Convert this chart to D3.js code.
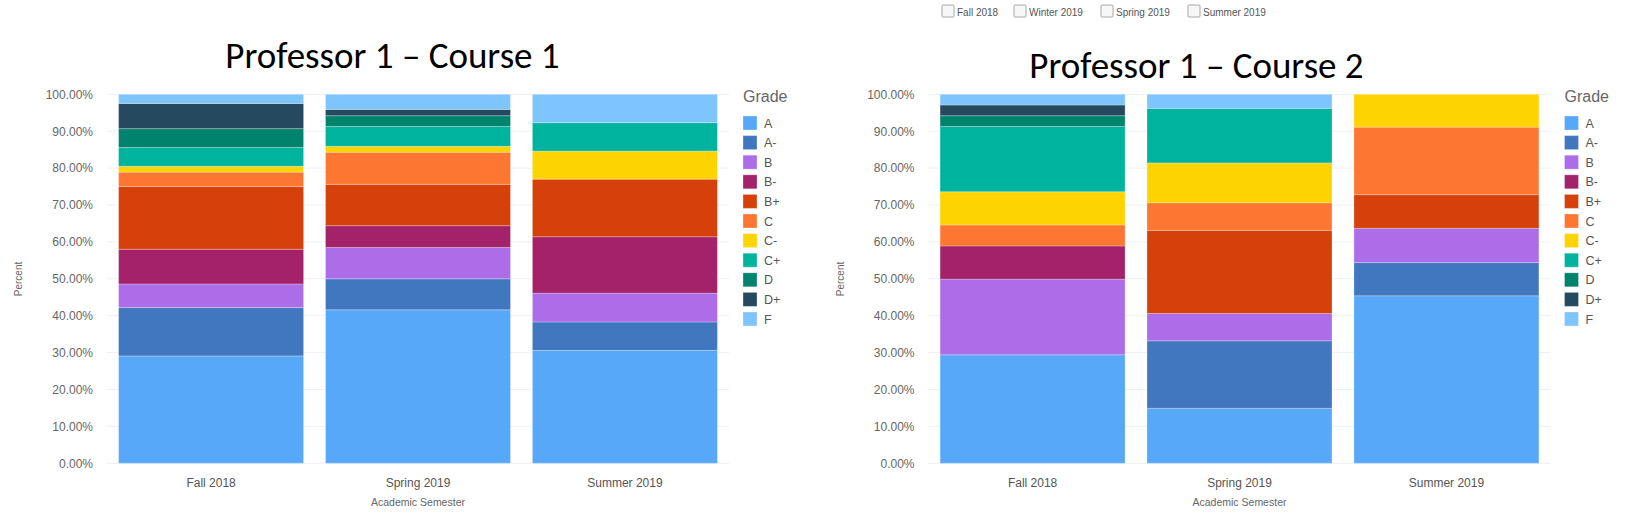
<!DOCTYPE html>
<html>
<head>
<meta charset="utf-8">
<script src="https://cdn.jsdelivr.net/npm/d3@7"></script>
<style>
  html, body { margin: 0; padding: 0; background: #fff; }
  svg { display: block; }
</style>
</head>
<body>
<svg id="chart" width="1650" height="530"></svg>
<script>
// ---- data ----
const grades = ["A", "A-", "B", "B-", "B+", "C", "C-", "C+", "D", "D+", "F"];
const semesters = ["Fall 2018", "Spring 2019", "Summer 2019"];
const filterLabels = ["Fall 2018", "Winter 2019", "Spring 2019", "Summer 2019"];
const yTicks = [0, 10, 20, 30, 40, 50, 60, 70, 80, 90, 100];
const gradeColors = ["#57a8f8", "#4177bf", "#ad6de8", "#a3226a", "#d6400a", "#fd7733", "#fdd400", "#00b39f", "#00836c", "#254a60", "#7fc5fd"];

// percentages per grade (A ... F) for each semester
const course1Fall2018 = [29.1, 13.1, 6.4, 9.4, 17.0, 3.9, 1.6, 5.1, 5.1, 6.8, 2.5];
const course1Spring2019 = [41.6, 8.4, 8.5, 5.9, 11.2, 8.7, 1.6, 5.4, 2.9, 1.7, 4.1];
const course1Summer2019 = [30.6, 7.7, 7.8, 15.3, 15.6, 0, 7.6, 7.7, 0, 0, 7.7];

const course2Fall2018 = [29.4, 0, 20.5, 9.0, 0, 5.7, 9.0, 17.7, 2.9, 2.9, 2.9];
const course2Spring2019 = [14.9, 18.3, 7.4, 0, 22.5, 7.5, 10.8, 14.8, 0, 0, 3.8];
const course2Summer2019 = [45.4, 9.0, 9.3, 0, 9.1, 18.3, 8.9, 0, 0, 0, 0];

const titles = ["Professor 1 \u2013 Course 1", "Professor 1 \u2013 Course 2"];

// ---- drawing ----
const svg = d3.select("#chart");
const color = d3.scaleOrdinal().domain(grades).range(gradeColors);

function buildRows(seriesList) {
  return semesters.map((s, i) => {
    const row = { semester: s };
    grades.forEach((g, j) => { row[g] = seriesList[i][j]; });
    return row;
  });
}

function drawChart(offsetX, title, titleX, titleY, seriesList) {
  const g = svg.append("g").attr("transform", `translate(${offsetX},0)`);
  const x = d3.scaleBand().domain(semesters).range([107, 729]).paddingInner(0.106).paddingOuter(0.056);
  const y = d3.scaleLinear().domain([0, 100]).range([463.3, 94.3]);

  // gridlines
  g.append("g").selectAll("line").data(yTicks).join("line")
    .attr("x1", 107).attr("x2", 729)
    .attr("y1", d => y(d)).attr("y2", d => y(d))
    .attr("stroke", "#edf1f4").attr("stroke-width", 1);

  // y axis labels
  const yAxis = d3.axisLeft(y).tickValues(yTicks).tickSize(0).tickPadding(0)
    .tickFormat(d => d.toFixed(2) + "%");
  g.append("g").attr("transform", "translate(93,0)").call(yAxis)
    .call(a => a.select(".domain").remove())
    .call(a => a.selectAll("text").attr("fill", "#666").attr("font-size", 12)
      .attr("font-family", "Liberation Sans, Arial, sans-serif"));

  // stacked bars
  const rows = buildRows(seriesList);
  const stacked = d3.stack().keys(grades)(rows);
  g.append("g").selectAll("g").data(stacked).join("g")
    .attr("fill", d => color(d.key))
    .selectAll("rect").data(d => d).join("rect")
      .attr("x", d => x(d.data.semester))
      .attr("width", x.bandwidth())
      .attr("y", d => y(d[1]))
      .attr("height", d => Math.max(0, y(d[0]) - y(d[1])))
      .attr("stroke", "#ffffff").attr("stroke-opacity", 0.25).attr("stroke-width", 1);

  // x axis labels
  const xAxis = d3.axisBottom(x).tickSize(0).tickPadding(0);
  g.append("g").attr("transform", "translate(0,478)").call(xAxis)
    .call(a => a.select(".domain").remove())
    .call(a => a.selectAll("text").attr("fill", "#555").attr("font-size", 12)
      .attr("font-family", "Liberation Sans, Arial, sans-serif"));

  // axis titles
  g.append("text").attr("x", (107 + 729) / 2).attr("y", 506)
    .attr("text-anchor", "middle").attr("fill", "#666").attr("font-size", 10.5)
    .attr("font-family", "Liberation Sans, Arial, sans-serif")
    .text("Academic Semester");
  g.append("text").attr("transform", "translate(22,279) rotate(-90)")
    .attr("text-anchor", "middle").attr("fill", "#666").attr("font-size", 10)
    .attr("font-family", "Liberation Sans, Arial, sans-serif")
    .text("Percent");

  // title
  g.append("text").attr("x", titleX).attr("y", titleY)
    .attr("text-anchor", "middle").attr("fill", "#000").attr("font-size", 37)
    .attr("font-family", "Carlito, Lato, sans-serif")
    .text(title);

  // legend
  const lg = g.append("g").attr("transform", "translate(743,0)");
  lg.append("text").attr("x", 0).attr("y", 102).attr("fill", "#666")
    .attr("font-size", 16).attr("font-family", "Liberation Sans, Arial, sans-serif").text("Grade");
  const items = lg.selectAll("g.item").data(grades).join("g").attr("class", "item")
    .attr("transform", (d, i) => `translate(0,${116 + i * 19.6})`);
  items.append("rect").attr("width", 14).attr("height", 14)
    .attr("fill", d => color(d)).attr("stroke", "#fff").attr("stroke-opacity", 0.3);
  items.append("text").attr("x", 21).attr("y", 11.5).attr("fill", "#555")
    .attr("font-size", 12.5).attr("font-family", "Liberation Sans, Arial, sans-serif")
    .text(d => d);
}

drawChart(0, titles[0], 392.5, 68, [course1Fall2018, course1Spring2019, course1Summer2019]);
drawChart(821.5, titles[1], 375, 78, [course2Fall2018, course2Spring2019, course2Summer2019]);

// filter checkboxes (top right)
const filterX = [942, 1014, 1101, 1188];
const fg = svg.append("g");
const fItems = fg.selectAll("g").data(filterLabels).join("g")
  .attr("transform", (d, i) => `translate(${filterX[i]},5)`);
fItems.append("rect").attr("width", 12).attr("height", 12).attr("rx", 1)
  .attr("fill", "#f7f7f7").attr("stroke", "#a8a8a8");
fItems.append("text").attr("x", 15).attr("y", 10.5).attr("fill", "#555")
  .attr("font-size", 10).attr("font-family", "Liberation Sans, Arial, sans-serif")
  .text(d => d);
</script>
</body>
</html>
